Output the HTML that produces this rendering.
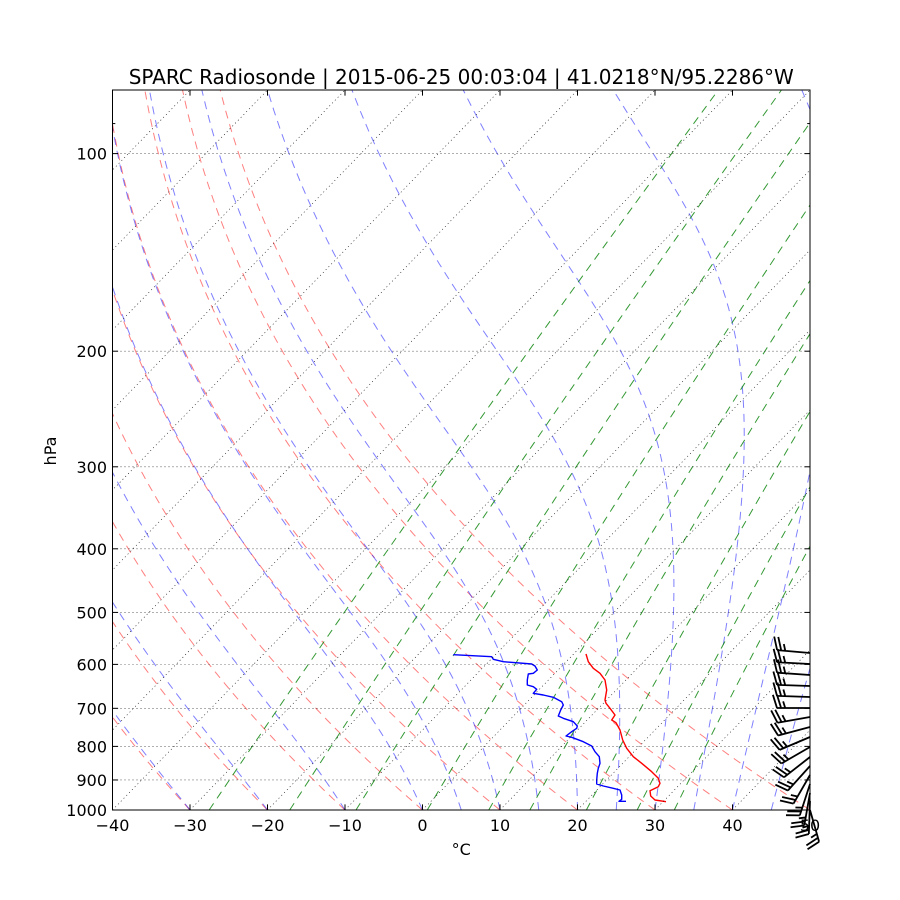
<!DOCTYPE html>
<html><head><meta charset="utf-8">
<style>
html,body{margin:0;padding:0;background:#fff;}
svg{display:block;}
text{font-family:"DejaVu Sans","Liberation Sans",sans-serif;fill:#000;}
</style></head>
<body>
<svg id="s" width="900" height="900" viewBox="0 0 900 900" xmlns="http://www.w3.org/2000/svg">
<rect width="900" height="900" fill="#fff"/>
<defs><clipPath id="c"><rect x="112.5" y="90" width="697.5" height="720"/></clipPath></defs>
<g id="bg" clip-path="url(#c)"></g>
<g clip-path="url(#c)">
<polyline fill="none" stroke="#0000ff" stroke-width="1.4" stroke-linejoin="round" points="453.3,654.7 491.7,656.7 493.3,659.3 503.3,661.7 531.7,664 535,666 537.3,670 533.3,673.3 528.3,674 527.3,680 527.3,685 533.3,686.7 536.7,689.3 533.3,693.3 543.3,695 553.3,697.3 561.7,701.7 563.3,705 560.7,710 558.3,716 563.3,718.3 573.3,721.7 577.3,726 576.7,728.3 571.7,731.7 566,736 571.7,737.3 583.3,741.7 591.7,746 595,751.7 599.3,756.7 600,763.3 598.3,768.3 597.3,773.3 596.7,780 596.7,784 603.3,786 613.3,788.3 620,790 621.7,795 621.7,799.3 619,801.3 626,801.3"/>
<polyline fill="none" stroke="#ff0000" stroke-width="1.4" stroke-linejoin="round" points="586,654 588.3,661.7 593.3,668.3 600,673.3 605,680 606.7,690 605,700 606,703.3 610,708.3 615,715 611.7,720 616,722.7 620,730 622.7,740 626.7,748.3 633.3,756.7 641.7,763.3 651.7,771.7 658.3,778.3 660,783.3 658.3,786.7 650,790.7 650.7,796 655,800 666,801.7"/>
</g>
<g id="grid" clip-path="url(#c)"></g>
<rect x="112.5" y="90" width="697.5" height="720" fill="none" stroke="#000" stroke-width="1"/>
<g id="ticks" stroke="#000" stroke-width="1"></g>
<text x="461.25" y="84" font-size="20" text-anchor="middle">SPARC Radiosonde | 2015-06-25 00:03:04 | 41.0218°N/95.2286°W</text>
<g font-size="16" text-anchor="middle">
<text x="112.5" y="831">−40</text>
<text x="190" y="831">−30</text>
<text x="267.5" y="831">−20</text>
<text x="345" y="831">−10</text>
<text x="422.5" y="831">0</text>
<text x="500" y="831">10</text>
<text x="577.5" y="831">20</text>
<text x="655" y="831">30</text>
<text x="732.5" y="831">40</text>
<text x="810" y="831">50</text>
</g>
<g font-size="16" text-anchor="end">
<text x="107" y="159.6">100</text>
<text x="107" y="357.2">200</text>
<text x="107" y="472.8">300</text>
<text x="107" y="554.8">400</text>
<text x="107" y="618.4">500</text>
<text x="107" y="670.4">600</text>
<text x="107" y="714.3">700</text>
<text x="107" y="752.4">800</text>
<text x="107" y="786">900</text>
<text x="107" y="816">1000</text>
</g>
<text x="461.25" y="855" font-size="16" text-anchor="middle">°C</text>
<text transform="translate(56,451) rotate(-90)" font-size="16" text-anchor="middle">hPa</text>
<g id="barbs" stroke="#000" stroke-width="1.8" fill="none"></g>
</svg>
<script>
(function(){
const NS='http://www.w3.org/2000/svg';
const X0=112.5,W=697.5,Y1=810,H=720,PB=1000,PT=80,LR=Math.log(PB/PT);
function yOf(p){return Y1-H*Math.log(PB/p)/LR;}
function xOf(T,p){return X0+((T+40)/90+(Y1-yOf(p))/H)*W;}
function pl(g,pts,attrs){const e=document.createElementNS(NS,'polyline');
 e.setAttribute('points',pts.map(q=>q[0].toFixed(2)+','+q[1].toFixed(2)).join(' '));
 e.setAttribute('fill','none');for(const k in attrs)e.setAttribute(k,attrs[k]);g.appendChild(e);}
function ln(g,x1,y1,x2,y2,attrs){const e=document.createElementNS(NS,'line');
 e.setAttribute('x1',x1);e.setAttribute('y1',y1);e.setAttribute('x2',x2);e.setAttribute('y2',y2);
 for(const k in attrs)e.setAttribute(k,attrs[k]);g.appendChild(e);}
const bg=document.getElementById('bg');
const N=150;const ps=[];for(let i=0;i<=N;i++)ps.push(PB+(PT-PB)*i/N);
// dry adiabats
for(let T0=-40;T0<=50;T0+=10){
 pl(bg,ps.map(p=>[xOf((T0+273.15)*Math.pow(p/1000,0.2857)-273.15,p),yOf(p)]),
 {stroke:'#ff0000','stroke-opacity':0.5,'stroke-dasharray':'8,6','stroke-width':1});
}
// moist adiabats
function es(T){const c=T-273.15;return 6.112*Math.exp(17.67*c/(c+243.5));}
function f(T,p){const e=es(T);const rs=0.622*e/Math.max(p-e,1e-3);
 return (287.04*T+2.501e6*rs)/(1005.7+(2.501e6*2.501e6*rs*0.622)/(287.04*T*T))/p;}
const mt=[-40,-30,-20,-10,0,5,10,15,20,25,30,35,40,45,50];
for(const t0 of mt){
 let T=t0+273.15;const pts=[[xOf(t0,PB),yOf(PB)]];
 for(let i=0;i<N;i++){
  const pa=ps[i],pb=ps[i+1];const sub=6;const h=(pb-pa)/sub;let p=pa;
  for(let j=0;j<sub;j++){
   const k1=f(T,p),k2=f(T+h*k1/2,p+h/2),k3=f(T+h*k2/2,p+h/2),k4=f(T+h*k3,p+h);
   T+=h*(k1+2*k2+2*k3+k4)/6;p+=h;
  }
  pts.push([xOf(T-273.15,pb),yOf(pb)]);
 }
 pl(bg,pts,{stroke:'#0000ff','stroke-opacity':0.5,'stroke-dasharray':'8,6','stroke-width':1});
}
// mixing lines
const ws=[0.0004,0.001,0.002,0.004,0.007,0.01,0.016,0.024,0.032];
for(const w of ws){
 pl(bg,ps.map(p=>{const e=p*w/(0.622+w);const l=Math.log(e/6.112);const td=243.5*l/(17.67-l);return [xOf(td,p),yOf(p)];}),
 {stroke:'#008000','stroke-opacity':0.8,'stroke-dasharray':'8,6','stroke-width':1});
}
// grid
const gr=document.getElementById('grid');
const ga={stroke:'#000','stroke-width':0.6,'stroke-dasharray':'1,3'};
for(let T=-130;T<=50;T+=10){ln(gr,xOf(T,PB),Y1,xOf(T,PT),90,ga);}
for(let p=100;p<=1000;p+=100){const y=yOf(p);ln(gr,X0,y,810,y,ga);}
// ticks
const tk=document.getElementById('ticks');
for(let k=0;k<=9;k++){const x=X0+77.5*k;ln(tk,x,810,x,804.4,{});ln(tk,x,90,x,95.6,{});}
for(let p=100;p<=1000;p+=100){const y=yOf(p);ln(tk,X0,y,X0+5.6,y,{});ln(tk,810,y,804.4,y,{});}
{const y=yOf(90);ln(tk,X0,y,X0+2.8,y,{});ln(tk,810,y,807.2,y,{});}
// barbs
const bd=[[653,185],[664,183],[675,184],[686,182],[697,182],[708,180],[717,170],[727,165],[737,157],[747,150],[757,142],[766,132],[775,120],[784,108],[793,100],[801,92],[810,74]];
const bgp=document.getElementById('barbs');const L=33;
for(const [y,a] of bd){
 const r=a*Math.PI/180;const dx=Math.cos(r),dy=Math.sin(r);const nx=-dy,ny=dx;
 const bx=810,by=y,tx=bx+L*dx,ty=by+L*dy;
 let d='M'+bx+','+by+'L'+tx.toFixed(2)+','+ty.toFixed(2);
 let pos=0;
 for(let k=0;k<3;k++){
  const full=k<2;const hg=full?13.2:6.6;const wd=full?4.1:2.05;
  const sx=tx-pos*dx,sy=ty-pos*dy;
  d+='M'+sx.toFixed(2)+','+sy.toFixed(2)+'L'+(sx+hg*nx+wd*dx).toFixed(2)+','+(sy+hg*ny+wd*dy).toFixed(2);
  pos+=4.1;
 }
 const e=document.createElementNS(NS,'path');e.setAttribute('d',d);bgp.appendChild(e);
}
})();
</script>
</body></html>
